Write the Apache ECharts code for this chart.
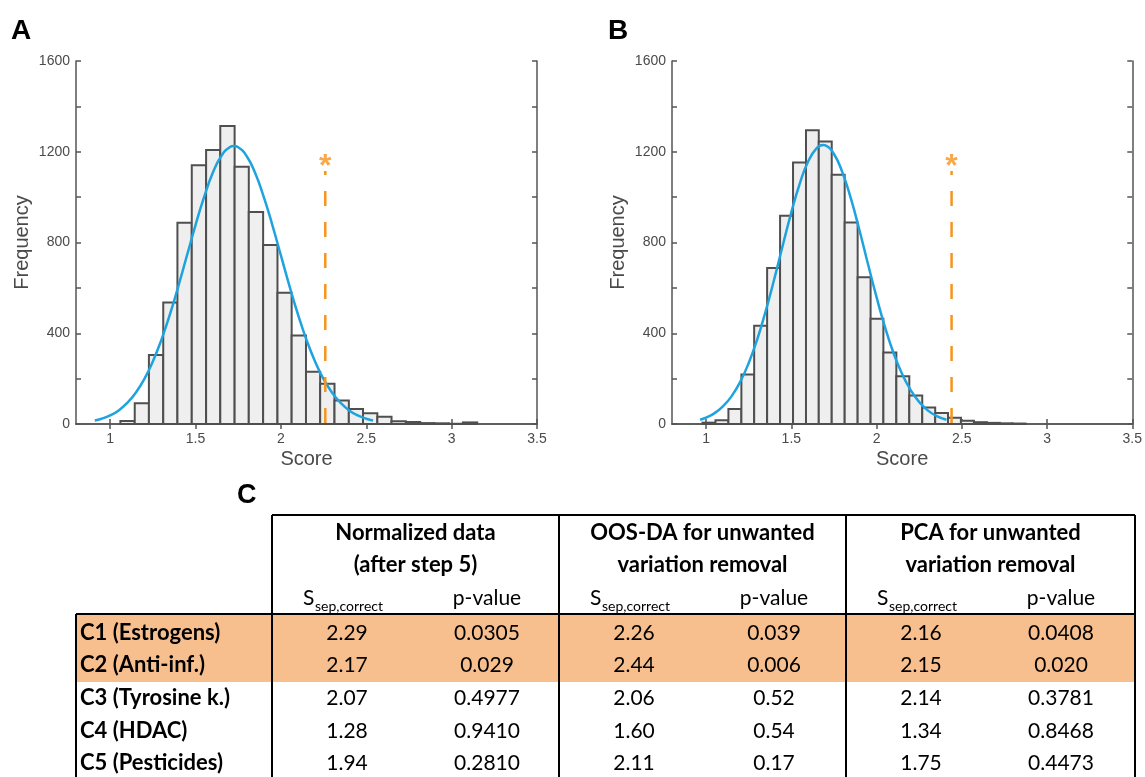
<!DOCTYPE html>
<html><head><meta charset="utf-8">
<script src="https://cdn.jsdelivr.net/npm/echarts@6/dist/echarts.min.js"></script>
<style>html,body{margin:0;padding:0;background:#fff}#c{width:1145px;height:777px}</style>
</head><body><div id="c"></div>
<script>
// ---------- data ----------
const binEdgesA = [1.060,1.144,1.227,1.311,1.394,1.478,1.562,1.645,1.729,1.812,1.896,1.980,2.063,2.147,2.230,2.314,2.398,2.481,2.565,2.648,2.732,2.816,2.899,2.983,3.066,3.150];
const countsA   = [13,92,304,535,887,1141,1208,1313,1134,934,789,578,390,230,177,104,66,47,32,12,9,4,3,1,7];
const binEdgesB = [0.979,1.055,1.131,1.207,1.282,1.358,1.434,1.510,1.586,1.661,1.737,1.813,1.889,1.965,2.040,2.116,2.192,2.268,2.344,2.419,2.495,2.571,2.647,2.723,2.798,2.874];
const countsB   = [6,16,66,218,433,688,918,1153,1295,1245,1099,888,647,464,315,210,126,73,48,28,14,8,5,3,2];
const fitXA = [0.91,0.95,1.00,1.05,1.10,1.15,1.20,1.25,1.30,1.35,1.40,1.45,1.50,1.55,1.60,1.65,1.70,1.725,1.75,1.80,1.85,1.90,1.95,2.00,2.05,2.10,2.15,2.20,2.25,2.30,2.35,2.40,2.45,2.50,2.54];
const fitYA = [15,23,38,60,93,138,198,276,371,483,609,743,877,1000,1105,1180,1220,1225,1220,1180,1105,1000,877,743,609,483,371,276,198,138,93,60,38,23,15];
const fitXB = [0.965,1.00,1.05,1.10,1.15,1.20,1.25,1.30,1.35,1.40,1.45,1.50,1.55,1.60,1.65,1.686,1.70,1.75,1.80,1.85,1.90,1.95,2.00,2.05,2.10,2.15,2.20,2.25,2.30,2.35,2.41];
const fitYB = [19,28,48,79,123,186,269,373,499,639,788,933,1061,1159,1217,1230,1228,1190,1108,992,853,704,559,426,312,220,149,97,60,36,19];
const scoreA = 2.26, scoreB = 2.44;
const scoreLineTop = 1115, starLevel = 1130;
const xTickValues = [1,1.5,2,2.5,3,3.5];
const yTickMarks = [0,200,400,600,800,1000,1200,1400,1600];
const yTickLabels = [0,400,800,1200,1600];
const panelLabels = ['A','B','C'];
const xName = 'Score', yName = 'Frequency';

const groupHeaders = [['Normalized data','(after step 5)'],['OOS-DA for unwanted','variation removal'],['PCA for unwanted','variation removal']];
const subS = 'S', subSub = 'sep,correct', subP = 'p-value';
const rowLabels = ['C1 (Estrogens)','C2 (Anti-inf.)','C3 (Tyrosine k.)','C4 (HDAC)','C5 (Pesticides)'];
const sNorm = ['2.29','2.17','2.07','1.28','1.94'];
const pNorm = ['0.0305','0.029','0.4977','0.9410','0.2810'];
const sOos  = ['2.26','2.44','2.06','1.60','2.11'];
const pOos  = ['0.039','0.006','0.52','0.54','0.17'];
const sPca  = ['2.16','2.15','2.14','1.34','1.75'];
const pPca  = ['0.0408','0.020','0.3781','0.8468','0.4473'];
const highlightedRows = [0,1];

// ---------- styling ----------
const AX = '#555555', TXT = '#4a4a4a', BLUE = '#1FA3DF', ORANGE = '#F7941D';
const FONT = '"Liberation Sans", Arial, sans-serif';
const TFONT = 'Lato, "Open Sans", sans-serif';

const chart = echarts.init(document.getElementById('c'), null, {renderer:'canvas'});

const grids = [
  {left:76, top:61, width:461, height:363},
  {left:672, top:61, width:462, height:363}
];
const xAxes = [], yAxes = [], series = [];
const panels = [
  {edges:binEdgesA, counts:countsA, fx:fitXA, fy:fitYA, score:scoreA},
  {edges:binEdgesB, counts:countsB, fx:fitXB, fy:fitYB, score:scoreB}
];
const plain = v => String(v);
panels.forEach((p, gi) => {
  const line = {show:true, lineStyle:{color:AX, width:1.5}};
  const tickX = {show:true, inside:true, length:5, customValues:xTickValues, lineStyle:{color:AX, width:1.5}};
  const tickY = {show:true, inside:true, length:5, customValues:yTickMarks, lineStyle:{color:AX, width:1.5}};
  xAxes.push({type:'value', gridIndex:gi, position:'bottom', min:0.8, max:3.5,
    axisLine:line, axisTick:tickX, splitLine:{show:false},
    axisLabel:{customValues:xTickValues, formatter:plain, color:TXT, fontSize:14, fontFamily:FONT, margin:8},
    name:xName, nameLocation:'middle', nameGap:25,
    nameTextStyle:{color:TXT, fontSize:20, fontFamily:FONT}});
  xAxes.push({type:'value', gridIndex:gi, position:'top', min:0.8, max:3.5,
    axisLine:line, axisTick:tickX, splitLine:{show:false}, axisLabel:{show:false}});
  yAxes.push({type:'value', gridIndex:gi, position:'left', min:0, max:1600, interval:200,
    axisLine:line, axisTick:tickY, splitLine:{show:false},
    axisLabel:{customValues:yTickLabels, formatter:plain, color:TXT, fontSize:14, fontFamily:FONT, margin:6},
    name:yName, nameLocation:'middle', nameGap:44,
    nameTextStyle:{color:TXT, fontSize:20, fontFamily:FONT}});
  yAxes.push({type:'value', gridIndex:gi, position:'right', min:0, max:1600, interval:200,
    axisLine:line, axisTick:tickY, splitLine:{show:false}, axisLabel:{show:false}});

  series.push({
    type:'custom', xAxisIndex:2*gi, yAxisIndex:2*gi, z:2,
    data: p.counts.map((c,i)=>[p.edges[i], p.edges[i+1], c]),
    encode:{x:[0,1], y:2},
    renderItem:(params, api)=>{
      const a = api.coord([api.value(0), api.value(2)]);
      const b = api.coord([api.value(1), 0]);
      return {type:'rect', shape:{x:a[0], y:a[1], width:b[0]-a[0], height:b[1]-a[1]},
        style:{fill:'#EFEFEF', stroke:'#4f4f4f', lineWidth:2}};
    }
  });
  series.push({
    type:'line', xAxisIndex:2*gi, yAxisIndex:2*gi, z:4, smooth:true, symbol:'none',
    data: p.fx.map((x,i)=>[x, p.fy[i]]),
    lineStyle:{color:BLUE, width:2.5}
  });
  series.push({
    type:'line', xAxisIndex:2*gi, yAxisIndex:2*gi, z:5, symbol:'none',
    data: [[p.score, scoreLineTop],[p.score, 0]],
    lineStyle:{color:ORANGE, width:2.5, type:[15,16], dashOffset:11}
  });
  series.push({
    type:'scatter', xAxisIndex:2*gi, yAxisIndex:2*gi, z:6, symbol:'circle', symbolSize:1,
    itemStyle:{color:'rgba(0,0,0,0)'},
    data: [[p.score, starLevel]],
    label:{show:true, position:'inside', formatter:'*', color:ORANGE, fontSize:32, fontWeight:'bold', fontFamily:FONT}
  });
});

// ---------- table (panel C) ----------
const colX = [272, 559, 846, 1135];
const tableLeft = 76, tableTop = 515, headBottom = 614, bandBottom = 682, tableBottom = 790;
const rowY = [633, 665, 698, 731, 763];
const g = [];
g.push({type:'rect', z:0, shape:{x:tableLeft, y:headBottom, width:colX[3]-tableLeft, height:bandBottom-headBottom}, style:{fill:'#F8BF8E'}});
const L = (x1,y1,x2,y2)=>g.push({type:'line', z:10, shape:{x1,y1,x2,y2}, style:{stroke:'#000', lineWidth:2}});
L(colX[0], tableTop, colX[3], tableTop);
L(tableLeft, headBottom, colX[3], headBottom);
colX.forEach(x=>L(x, tableTop, x, tableBottom));
L(tableLeft, headBottom, tableLeft, tableBottom);
const T = (text, x, y, font, align)=>g.push({type:'text', z:11, x, y,
  style:{text, font, fill:'#000', textAlign:align||'center', align:align||'center', textVerticalAlign:'middle', verticalAlign:'middle'}});
const cols = [[sNorm,pNorm],[sOos,pOos],[sPca,pPca]];
groupHeaders.forEach((h,i)=>{
  const cx = (colX[i]+colX[i+1])/2;
  T(h[0], cx, 533, 'bold 22px '+TFONT);
  T(h[1], cx, 565, 'bold 22px '+TFONT);
  T(subS, colX[i]+31, 598, '21px '+TFONT, 'left');
  T(subSub, colX[i]+43, 606, '14px '+TFONT, 'left');
  T(subP, colX[i]+215, 598, '21px '+TFONT);
  cols[i][0].forEach((v,r)=>T(v, colX[i]+75, rowY[r], '21px '+TFONT));
  cols[i][1].forEach((v,r)=>T(v, colX[i]+215, rowY[r], '21px '+TFONT));
});
rowLabels.forEach((t,r)=>T(t, 80, rowY[r], 'bold 22px '+TFONT, 'left'));
// panel letters
T(panelLabels[0], 11, 31, 'bold 28px '+FONT, 'left');
T(panelLabels[1], 608, 31, 'bold 28px '+FONT, 'left');
T(panelLabels[2], 237, 496, 'bold 27px '+FONT, 'left');

chart.setOption({
  animation:false,
  backgroundColor:'#ffffff',
  grid:grids, xAxis:xAxes, yAxis:yAxes, series:series, graphic:g
});
</script></body></html>
